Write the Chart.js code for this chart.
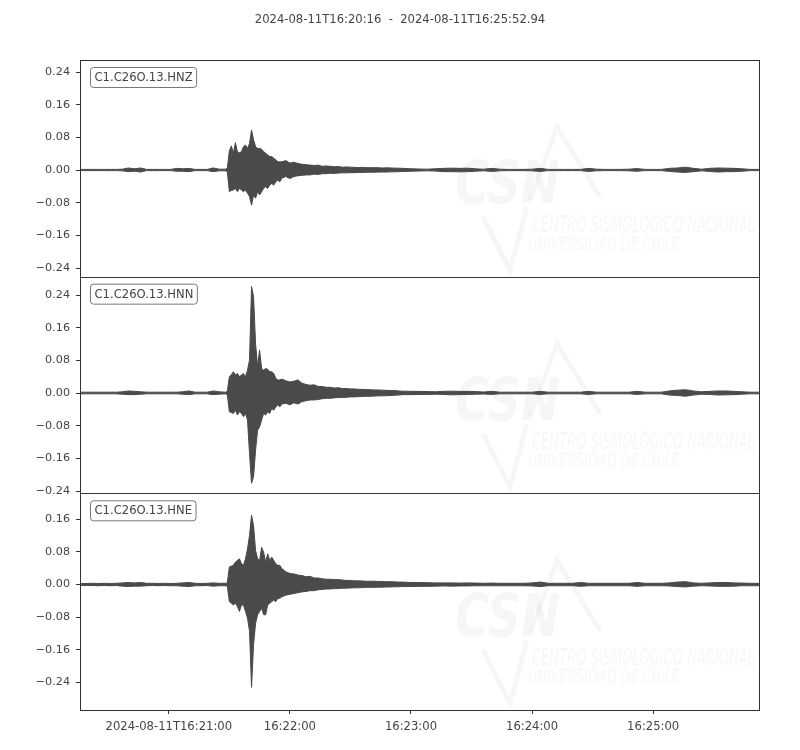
<!DOCTYPE html>
<html>
<head>
<meta charset="utf-8">
<script src="https://cdn.jsdelivr.net/npm/chart.js@4.4.1/dist/chart.umd.min.js"></script>
<style>
  html, body { margin: 0; padding: 0; background: #fff; }
  #marco { position: relative; width: 800px; height: 750px; }
</style>
</head>
<body>
<div id="marco"><canvas id="sismograma" width="800" height="750"></canvas></div>
<script>
// Segundos desde 2024-08-11T16:20:16
const segundos = [
  0, 3, 6, 9, 12, 15, 18, 21, 24, 27, 30, 33, 36, 39, 42, 45, 48, 51, 54, 57, 60, 63, 66, 69, 72,
  73, 74, 75, 76, 77, 78, 79, 80, 81, 82, 83, 84, 85, 86, 87, 88, 89, 90, 91, 92, 93, 94, 95, 96, 97, 98, 99, 100,
  102, 104, 106, 108, 110, 112, 114, 116, 118, 120, 122, 124, 126, 128, 130, 132, 134, 136, 138, 140, 142, 144, 146, 148, 150, 152, 154, 156, 158, 160,
  164, 168, 172, 176, 180, 184, 188, 192, 196, 200, 204, 208, 212, 216, 220, 224, 228, 232, 236, 240, 244, 248, 252, 256, 260, 264, 268, 272, 276, 280, 284, 288, 292, 296, 300, 304, 308, 312, 316, 320, 324, 328, 332, 336,
  336.94
];

// Envolvente de cada traza (máximo y mínimo en cada intervalo)
const zArriba = [
  0.0015, 0.0015, 0.0015, 0.0015, 0.0015, 0.0015, 0.0015, 0.002, 0.005, 0.003, 0.005, 0.0015, 0.0015, 0.0015, 0.0015, 0.0015, 0.004, 0.003, 0.004, 0.0015, 0.0015, 0.0015, 0.005, 0.002, 0.002,
  0.004, 0.047, 0.059, 0.041, 0.067, 0.045, 0.042, 0.045, 0.057, 0.061, 0.053, 0.065, 0.098, 0.074, 0.057, 0.053, 0.053, 0.051, 0.045, 0.041, 0.037, 0.033, 0.033, 0.029, 0.025, 0.020, 0.020, 0.020,
  0.023, 0.017, 0.019, 0.016, 0.014, 0.013, 0.012, 0.011, 0.012, 0.009, 0.010, 0.009, 0.008, 0.0085, 0.007, 0.0075, 0.007, 0.0065, 0.006, 0.0065, 0.006, 0.0055, 0.006, 0.0055, 0.005, 0.0055, 0.005, 0.0045, 0.0045, 0.004,
  0.003, 0.0025, 0.002, 0.003, 0.004, 0.0045, 0.004, 0.0045, 0.003, 0.002, 0.004, 0.002, 0.0015, 0.0015, 0.0015, 0.002, 0.004, 0.0015, 0.0015, 0.0015, 0.0015, 0.0015, 0.004, 0.002, 0.0015, 0.0015, 0.0015, 0.002, 0.0035, 0.0015, 0.0015, 0.0015, 0.004, 0.005, 0.007, 0.004, 0.002, 0.004, 0.005, 0.0045, 0.004, 0.003, 0.0015, 0.0015,
  0.0015
];
const zAbajo = [
  -0.0015, -0.0015, -0.0015, -0.0015, -0.0015, -0.0015, -0.0015, -0.002, -0.004, -0.003, -0.005, -0.0015, -0.0015, -0.0015, -0.0015, -0.0015, -0.003, -0.003, -0.004, -0.0015, -0.0015, -0.0015, -0.004, -0.002, -0.002,
  -0.004, -0.053, -0.050, -0.049, -0.045, -0.053, -0.045, -0.049, -0.053, -0.049, -0.057, -0.065, -0.086, -0.061, -0.069, -0.053, -0.061, -0.053, -0.045, -0.041, -0.045, -0.037, -0.033, -0.037, -0.029, -0.025, -0.029, -0.020,
  -0.016, -0.021, -0.016, -0.014, -0.013, -0.012, -0.012, -0.010, -0.011, -0.009, -0.009, -0.008, -0.0085, -0.0075, -0.007, -0.007, -0.0065, -0.0065, -0.006, -0.006, -0.0055, -0.0055, -0.0055, -0.005, -0.005, -0.005, -0.0045, -0.0045, -0.004, -0.0035,
  -0.003, -0.0025, -0.002, -0.0025, -0.004, -0.004, -0.0045, -0.004, -0.003, -0.002, -0.0035, -0.002, -0.0015, -0.0015, -0.0015, -0.002, -0.0035, -0.0015, -0.0015, -0.0015, -0.0015, -0.0015, -0.0035, -0.002, -0.0015, -0.0015, -0.0015, -0.002, -0.003, -0.0015, -0.0015, -0.0015, -0.0035, -0.005, -0.006, -0.004, -0.002, -0.0035, -0.005, -0.004, -0.004, -0.003, -0.0015, -0.0015,
  -0.0015
];

const nArriba = [
  0.002, 0.002, 0.002, 0.002, 0.002, 0.002, 0.002, 0.003, 0.005, 0.004, 0.003, 0.002, 0.002, 0.002, 0.002, 0.002, 0.002, 0.003, 0.005, 0.002, 0.002, 0.002, 0.005, 0.003, 0.002,
  0.004, 0.040, 0.045, 0.052, 0.044, 0.048, 0.040, 0.044, 0.048, 0.040, 0.056, 0.081, 0.261, 0.236, 0.120, 0.065, 0.105, 0.060, 0.056, 0.060, 0.058, 0.052, 0.052, 0.048, 0.036, 0.032, 0.032, 0.034,
  0.030, 0.027, 0.029, 0.032, 0.024, 0.021, 0.019, 0.020, 0.016, 0.016, 0.014, 0.014, 0.012, 0.013, 0.011, 0.011, 0.010, 0.010, 0.009, 0.009, 0.0085, 0.008, 0.0075, 0.0075, 0.007, 0.0065, 0.006, 0.006, 0.005, 0.0045,
  0.004, 0.004, 0.0035, 0.003, 0.004, 0.0045, 0.004, 0.004, 0.0035, 0.0025, 0.004, 0.002, 0.002, 0.002, 0.002, 0.002, 0.004, 0.002, 0.002, 0.002, 0.002, 0.002, 0.004, 0.002, 0.002, 0.002, 0.002, 0.002, 0.004, 0.002, 0.002, 0.002, 0.005, 0.007, 0.008, 0.005, 0.003, 0.004, 0.005, 0.005, 0.004, 0.003, 0.002, 0.002,
  0.002
];
const nAbajo = [
  -0.002, -0.002, -0.002, -0.002, -0.002, -0.002, -0.002, -0.003, -0.004, -0.004, -0.003, -0.002, -0.002, -0.002, -0.002, -0.002, -0.002, -0.003, -0.004, -0.002, -0.002, -0.002, -0.004, -0.003, -0.002,
  -0.004, -0.046, -0.048, -0.050, -0.042, -0.054, -0.046, -0.050, -0.058, -0.050, -0.066, -0.148, -0.221, -0.205, -0.140, -0.091, -0.083, -0.066, -0.050, -0.054, -0.046, -0.050, -0.038, -0.042, -0.034, -0.029, -0.034, -0.027,
  -0.025, -0.029, -0.024, -0.027, -0.021, -0.019, -0.017, -0.017, -0.016, -0.014, -0.013, -0.013, -0.012, -0.011, -0.011, -0.0105, -0.0095, -0.0095, -0.009, -0.0085, -0.008, -0.008, -0.0075, -0.007, -0.007, -0.0065, -0.006, -0.0055, -0.005, -0.004,
  -0.004, -0.0035, -0.0035, -0.003, -0.0035, -0.0045, -0.004, -0.0035, -0.003, -0.0025, -0.0035, -0.002, -0.002, -0.002, -0.002, -0.002, -0.0035, -0.002, -0.002, -0.002, -0.002, -0.002, -0.0035, -0.002, -0.002, -0.002, -0.002, -0.002, -0.0035, -0.002, -0.002, -0.002, -0.005, -0.006, -0.008, -0.005, -0.003, -0.0035, -0.005, -0.0045, -0.004, -0.003, -0.002, -0.002,
  -0.002
];

const eArriba = [
  0.002, 0.0025, 0.003, 0.0025, 0.003, 0.0025, 0.003, 0.004, 0.005, 0.004, 0.005, 0.003, 0.003, 0.0025, 0.003, 0.0025, 0.003, 0.004, 0.005, 0.003, 0.0025, 0.003, 0.004, 0.003, 0.003,
  0.004, 0.043, 0.045, 0.047, 0.055, 0.059, 0.063, 0.051, 0.047, 0.063, 0.087, 0.120, 0.170, 0.144, 0.083, 0.063, 0.059, 0.091, 0.079, 0.055, 0.075, 0.059, 0.067, 0.059, 0.051, 0.047, 0.047, 0.039,
  0.031, 0.027, 0.026, 0.023, 0.022, 0.019, 0.020, 0.016, 0.016, 0.014, 0.013, 0.013, 0.012, 0.012, 0.011, 0.010, 0.010, 0.009, 0.009, 0.0085, 0.008, 0.008, 0.008, 0.0075, 0.0075, 0.007, 0.007, 0.0065, 0.006, 0.006,
  0.005, 0.005, 0.0045, 0.004, 0.004, 0.004, 0.0035, 0.004, 0.0035, 0.003, 0.0035, 0.003, 0.003, 0.003, 0.003, 0.004, 0.006, 0.003, 0.003, 0.003, 0.003, 0.005, 0.003, 0.003, 0.003, 0.003, 0.003, 0.003, 0.005, 0.003, 0.003, 0.003, 0.004, 0.006, 0.007, 0.004, 0.003, 0.004, 0.005, 0.005, 0.004, 0.0035, 0.003, 0.003,
  0.003
];
const eAbajo = [
  -0.002, -0.0025, -0.0025, -0.003, -0.0025, -0.003, -0.0025, -0.004, -0.005, -0.004, -0.004, -0.003, -0.0025, -0.003, -0.0025, -0.003, -0.003, -0.004, -0.005, -0.003, -0.003, -0.0025, -0.004, -0.003, -0.003,
  -0.004, -0.042, -0.046, -0.050, -0.046, -0.054, -0.066, -0.050, -0.050, -0.066, -0.082, -0.115, -0.252, -0.147, -0.095, -0.074, -0.066, -0.058, -0.074, -0.074, -0.050, -0.046, -0.042, -0.038, -0.042, -0.034, -0.034, -0.030,
  -0.026, -0.024, -0.022, -0.020, -0.018, -0.017, -0.015, -0.015, -0.013, -0.012, -0.011, -0.011, -0.010, -0.010, -0.009, -0.009, -0.0085, -0.008, -0.008, -0.0075, -0.007, -0.007, -0.007, -0.0065, -0.0065, -0.006, -0.006, -0.0055, -0.0055, -0.005,
  -0.005, -0.0045, -0.0045, -0.004, -0.0035, -0.004, -0.0035, -0.0035, -0.003, -0.003, -0.003, -0.003, -0.003, -0.003, -0.003, -0.0035, -0.005, -0.003, -0.003, -0.003, -0.003, -0.0045, -0.003, -0.003, -0.003, -0.003, -0.003, -0.003, -0.0045, -0.003, -0.003, -0.003, -0.0035, -0.005, -0.006, -0.004, -0.003, -0.0035, -0.0045, -0.0045, -0.004, -0.003, -0.003, -0.003,
  -0.003
];

const canales = ['C1.C26O.13.HNZ', 'C1.C26O.13.HNN', 'C1.C26O.13.HNE'];
const rangoZ = [-0.2612, 0.2694];
const rangoN = [-0.2457, 0.2849];
const rangoE = [-0.3073, 0.2233];
const marcasY = [-0.24, -0.16, -0.08, 0, 0.08, 0.16, 0.24];
const marcasYE = [-0.24, -0.16, -0.08, 0, 0.08, 0.16];
const marcasX = [44, 104, 164, 224, 284];
const etiquetasX = ['2024-08-11T16:21:00', '16:22:00', '16:23:00', '16:24:00', '16:25:00'];
const duracion = 336.94;
const titulo = '2024-08-11T16:20:16  -  2024-08-11T16:25:52.94';

const COLOR_TRAZA = '#4a4a4a';
const COLOR_EJE = '#333333';
const COLOR_TEXTO = '#444444';
const FUENTE = "'DejaVu Sans', sans-serif";

Chart.defaults.font.family = FUENTE;
Chart.defaults.font.size = 11.2;
Chart.defaults.color = COLOR_TEXTO;

// Function to format y tick labels like matplotlib
const formatea = (v) => (v < 0 ? '\u2212' : '') + Math.abs(v).toFixed(2);

// Function to build one envelope dataset
const serie = (valores, eje, relleno) => ({
    data: segundos.map((t, i) => ({ x: t, y: valores[i] })),
    yAxisID: eje,
    borderColor: COLOR_TRAZA,
    backgroundColor: COLOR_TRAZA,
    borderWidth: 1,
    pointRadius: 0,
    tension: 0,
    fill: relleno
});

// Function to build one stacked y axis
const ejeY = (rango, marcas, peso) => ({
    type: 'linear',
    position: 'left',
    stack: 'trazas',
    stackWeight: 1,
    weight: peso,
    min: rango[0],
    max: rango[1],
    afterBuildTicks: (s) => { s.ticks = marcas.map(v => ({ value: v })); },
    afterFit: (s) => { s.width = 80; },
    grid: { drawOnChartArea: false, drawTicks: true, tickLength: 4, color: COLOR_EJE },
    border: { display: false },
    ticks: { padding: 6, color: COLOR_TEXTO, callback: (v) => formatea(v) }
});

// Watermark of each panel
const marcaAgua = (ctx, x0, y0) => {
    ctx.save();
    ctx.fillStyle = 'rgba(0,0,0,0.035)';
    ctx.strokeStyle = 'rgba(0,0,0,0.035)';
    ctx.textBaseline = 'alphabetic';
    ctx.textAlign = 'left';

    const texto = (t, fuente, x, y, ancho) => {
        ctx.font = fuente;
        const w = ctx.measureText(t).width;
        ctx.save();
        ctx.translate(x, y);
        ctx.scale(ancho / w, 1);
        ctx.fillText(t, 0, 0);
        ctx.restore();
    };
    texto('CSN', 'italic bold 59px ' + FUENTE, x0 + 375, y0 + 143, 105);
    texto('CENTRO SISMOLÓGICO NACIONAL', 'italic 23px ' + FUENTE, x0 + 452, y0 + 172, 223);
    texto('UNIVERSIDAD DE CHILE', 'italic 20px ' + FUENTE, x0 + 448, y0 + 190, 152);

    ctx.lineWidth = 5;
    ctx.lineJoin = 'miter';
    ctx.beginPath();
    ctx.moveTo(x0 + 450, y0 + 140);
    ctx.lineTo(x0 + 477, y0 + 67);
    ctx.lineTo(x0 + 520, y0 + 137);
    ctx.stroke();
    ctx.beginPath();
    ctx.moveTo(x0 + 403, y0 + 157);
    ctx.lineTo(x0 + 430, y0 + 210);
    ctx.lineTo(x0 + 447, y0 + 147);
    ctx.stroke();
    ctx.restore();
};

const decoracion = {
    id: 'decoracion',
    beforeDatasetsDraw(chart) {
        const { ctx, chartArea } = chart;
        ['yZ', 'yN', 'yE'].forEach(id => marcaAgua(ctx, chartArea.left, chart.scales[id].top));
    },
    afterDraw(chart) {
        const { ctx, chartArea } = chart;
        ctx.save();
        // title
        ctx.fillStyle = COLOR_TEXTO;
        ctx.font = '11.6px ' + FUENTE;
        ctx.textAlign = 'center';
        ctx.textBaseline = 'middle';
        ctx.fillText(titulo, 400, 20);

        const izq = Math.round(chartArea.left) + 0.5;
        const der = Math.round(chartArea.right) - 0.5;
        ['yZ', 'yN', 'yE'].forEach((id, i) => {
            const s = chart.scales[id];
            // panel frame
            const arriba = Math.round(s.top) + 0.5;
            const abajo = Math.round(s.bottom) + 0.5;
            ctx.strokeStyle = COLOR_EJE;
            ctx.lineWidth = 1;
            ctx.strokeRect(izq, arriba, der - izq, abajo - arriba);
            // channel label
            ctx.font = '11.6px ' + FUENTE;
            const w = ctx.measureText(canales[i]).width;
            const bx = chartArea.left + 10.5, by = s.top + 7.5, bw = w + 8, bh = 20;
            ctx.beginPath();
            ctx.roundRect(bx, by, bw, bh, 3);
            ctx.fillStyle = '#ffffff';
            ctx.fill();
            ctx.strokeStyle = '#777777';
            ctx.stroke();
            ctx.fillStyle = COLOR_TEXTO;
            ctx.textAlign = 'left';
            ctx.textBaseline = 'middle';
            ctx.fillText(canales[i], bx + 4, by + bh / 2 + 0.5);
        });
        ctx.restore();
    }
};

new Chart(document.getElementById('sismograma').getContext('2d'), {
    type: 'line',
    data: {
        datasets: [
            serie(zArriba, 'yZ', '+1'), serie(zAbajo, 'yZ', false),
            serie(nArriba, 'yN', '+1'), serie(nAbajo, 'yN', false),
            serie(eArriba, 'yE', '+1'), serie(eAbajo, 'yE', false)
        ]
    },
    options: {
        responsive: false,
        animation: false,
        devicePixelRatio: 1,
        layout: { padding: { top: 60, right: 40, bottom: 0, left: 0 } },
        plugins: { legend: { display: false }, tooltip: { enabled: false }, title: { display: false } },
        scales: {
            x: {
                type: 'linear',
                position: 'bottom',
                min: 0,
                max: duracion,
                afterBuildTicks: (s) => { s.ticks = marcasX.map(v => ({ value: v })); },
                afterFit: (s) => { s.height = 40; },
                grid: { drawOnChartArea: false, drawTicks: true, tickLength: 4, color: COLOR_EJE },
                border: { display: false },
                ticks: {
                    padding: 6, color: COLOR_TEXTO, autoSkip: false, maxRotation: 0, minRotation: 0,
                    font: { size: 11.6 },
                    callback: (v, i) => etiquetasX[i]
                }
            },
            yZ: ejeY(rangoZ, marcasY, 3),
            yN: ejeY(rangoN, marcasY, 2),
            yE: ejeY(rangoE, marcasYE, 1)
        }
    },
    plugins: [decoracion]
});
</script>
</body>
</html>
